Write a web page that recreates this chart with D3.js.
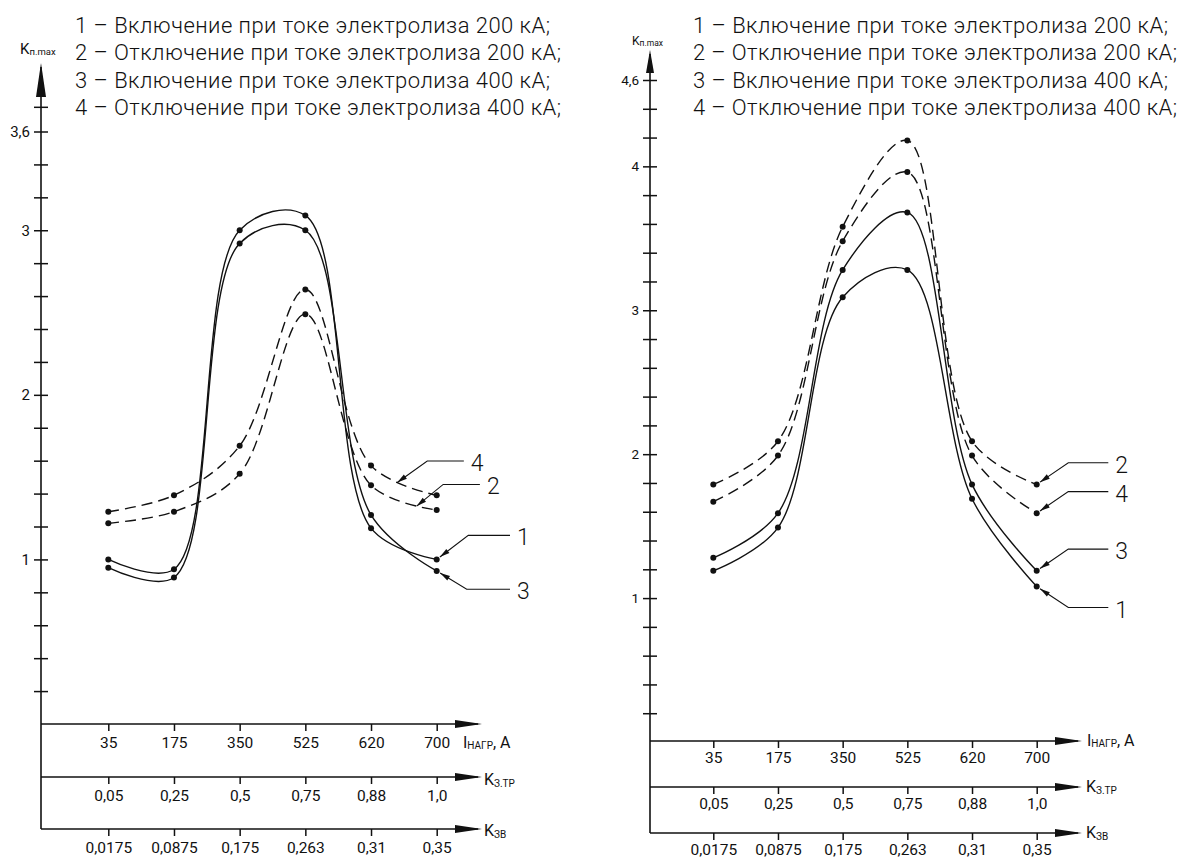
<!DOCTYPE html>
<html>
<head>
<meta charset="utf-8">
<script src="https://cdn.jsdelivr.net/npm/d3@7"></script>
<style>
body { margin: 0; background: #fff; }
svg { display: block; }
text { font-family: "Roboto", "DejaVu Sans", sans-serif; fill: #111; }
.big { font-weight: 300; }
.curve { fill: none; stroke: #111; stroke-width: 1.4; }
.dashed { stroke-dasharray: 11,6; }
.axisline { stroke: #111; stroke-width: 1.6; fill: none; }
.leader { stroke: #111; stroke-width: 1.1; fill: none; }
</style>
</head>
<body>
<div class="container"></div>
<script>
const WIDTH = 1190;
const HEIGHT = 859;

// x categories (three scales under each picture)
var currentLabels = ["35", "175", "350", "525", "620", "700"];
var ktrLabels = ["0,05", "0,25", "0,5", "0,75", "0,88", "1,0"];
var kzvLabels = ["0,0175", "0,0875", "0,175", "0,263", "0,31", "0,35"];

var legendLines = [
	"1 – Включение при токе электролиза 200 кА;",
	"2 – Отключение при токе электролиза 200 кА;",
	"3 – Включение при токе электролиза 400 кА;",
	"4 – Отключение при токе электролиза 400 кА;"
];

// left picture, Kп.max
var leftOn200  = [1.00, 0.94, 3.00, 3.09, 1.19, 1.00];
var leftOff200 = [1.22, 1.29, 1.52, 2.49, 1.45, 1.30];
var leftOn400  = [0.95, 0.89, 2.92, 3.00, 1.27, 0.93];
var leftOff400 = [1.29, 1.39, 1.69, 2.64, 1.57, 1.39];
var leftYLabels = [1, 2, 3, 3.6];
var leftYTicks = d3.range(1, 19).map(function(i){ return i / 5; }).concat([3.75]);

// right picture, Kп.max
var rightOn200  = [1.19, 1.49, 3.09, 3.28, 1.69, 1.08];
var rightOff200 = [1.79, 2.09, 3.58, 4.18, 2.09, 1.79];
var rightOn400  = [1.28, 1.59, 3.28, 3.68, 1.79, 1.19];
var rightOff400 = [1.67, 1.99, 3.48, 3.96, 1.99, 1.59];
var rightYLabels = [1, 2, 3, 4, 4.6];
var rightYTicks = d3.range(1, 24).map(function(i){ return i / 5; });

var comma = function(v){ return String(v).replace(".", ","); };

var svg = d3.select(".container").append("svg")
	.attr("width", WIDTH)
	.attr("height", HEIGHT);

var arrowPath = function(tx, ty, ux, uy, len, half){
	// triangle with tip at (tx,ty), body going in direction (ux,uy)
	var bx = tx + ux * len, by = ty + uy * len;
	var nx = -uy, ny = ux;
	return "M" + tx + "," + ty +
		"L" + (bx + nx * half) + "," + (by + ny * half) +
		"L" + (bx - nx * half) + "," + (by - ny * half) + "Z";
};

var richText = function(g, x, y, parts){
	var t = g.append("text").attr("x", x).attr("y", y);
	parts.forEach(function(p){
		t.append("tspan")
			.attr("font-size", p.size)
			.attr("dy", p.dy || 0)
			.text(p.t);
	});
	return t;
};

// walk back from the end of the path to the first point left of px
var pointAtX = function(node, px){
	var total = node.getTotalLength();
	for (var l = total; l > 0; l -= 0.5) {
		var p = node.getPointAtLength(l);
		if (p.x <= px) return p;
	}
	return node.getPointAtLength(0);
};

var drawPicture = function(cfg){
	var g = svg.append("g");

	var x = d3.scalePoint().domain(currentLabels).range([cfg.x0, cfg.x1]);
	var y = d3.scaleLinear().domain([0, cfg.yTopVal]).range([cfg.yZero, cfg.yTopPx]);

	// vertical axis with arrow
	var bottom = cfg.hAxes[cfg.hAxes.length - 1];
	g.append("line").classed("axisline", true)
		.attr("x1", cfg.axisX).attr("x2", cfg.axisX)
		.attr("y1", bottom).attr("y2", cfg.yTip + 4);
	g.append("path")
		.attr("d", arrowPath(cfg.axisX, cfg.yTip, 0, 1, cfg.yArrowLen, cfg.yArrowHalf))
		.attr("fill", "#111");

	// crossing ticks on the vertical axis
	[d3.axisLeft(y), d3.axisRight(y)].forEach(function(ax){
		var a = g.append("g")
			.attr("transform", "translate(" + cfg.axisX + ",0)")
			.call(ax.tickValues(cfg.yTicks).tickSize(7).tickFormat(""));
		a.select(".domain").remove();
		a.selectAll("line").attr("stroke", "#111").attr("stroke-width", 1.5);
	});
	var yl = g.append("g")
		.attr("transform", "translate(" + cfg.axisX + ",0)")
		.call(d3.axisLeft(y).tickValues(cfg.yLabels).tickSize(0).tickPadding(11).tickFormat(comma));
	yl.select(".domain").remove();
	yl.attr("font-family", null).attr("font-size", cfg.yLabelSize);

	richText(g, cfg.kLabel.x, cfg.kLabel.y, [
		{t: "K", size: cfg.kLabel.size},
		{t: "п.max", size: cfg.kLabel.sub, dy: 1}
	]);

	// three horizontal scales
	var rows = [currentLabels, ktrLabels, kzvLabels];
	cfg.hAxes.forEach(function(ay, k){
		g.append("line").classed("axisline", true)
			.attr("x1", cfg.axisX).attr("x2", cfg.hTip - 4)
			.attr("y1", ay).attr("y2", ay);
		g.append("path")
			.attr("d", arrowPath(cfg.hTip, ay, -1, 0, 27, 3.9))
			.attr("fill", "#111");
		var a = g.append("g")
			.attr("transform", "translate(0," + ay + ")")
			.call(d3.axisBottom(x).tickSize(7).tickSizeOuter(0).tickPadding(cfg.tickPad)
				.tickFormat(function(d, i){ return rows[k][i]; }));
		a.select(".domain").remove();
		a.attr("font-family", null).attr("font-size", 15.5);
		a.selectAll("line").attr("stroke", "#111").attr("stroke-width", 1.5);
	});

	var n = cfg.axisNames;
	richText(g, n[0].x, n[0].y, [
		{t: "I", size: 16},
		{t: "НАГР", size: 10, dy: 1},
		{t: ",  A", size: 16, dy: -1}
	]);
	richText(g, n[1].x, n[1].y, [
		{t: "K", size: 16},
		{t: "З.ТР", size: 10, dy: 2}
	]);
	richText(g, n[2].x, n[2].y, [
		{t: "K", size: 16},
		{t: "ЗВ", size: 10, dy: 2}
	]);

	// curves
	var line = d3.line()
		.x(function(d, i){ return x(currentLabels[i]); })
		.y(function(d){ return y(d); })
		.curve(d3.curveCatmullRom.alpha(0.5));

	var nodes = {};
	cfg.series.forEach(function(s){
		var p = g.append("path")
			.classed("curve", true)
			.classed("dashed", s.dashed)
			.attr("d", line(s.values));
		nodes[s.num] = {node: p.node(), values: s.values};
		g.selectAll(null).data(s.values).enter().append("circle")
			.attr("cx", function(d, i){ return x(currentLabels[i]); })
			.attr("cy", function(d){ return y(d); })
			.attr("r", 3)
			.attr("fill", "#111");
	});

	// numbered leaders
	cfg.leaders.forEach(function(l){
		var s = nodes[l.num], tx, ty, off;
		if (l.between == null) {
			tx = x(currentLabels[5]);
			ty = y(s.values[5]);
			off = 4;
		} else {
			var px = x(currentLabels[4]) + l.between * (x(currentLabels[5]) - x(currentLabels[4]));
			var pt = pointAtX(s.node, px);
			tx = pt.x; ty = pt.y; off = 0;
		}
		var ex = tx + l.dx, ey = ty + l.dy;
		var len = Math.sqrt(l.dx * l.dx + l.dy * l.dy);
		var ux = l.dx / len, uy = l.dy / len;
		var sx = tx + ux * off, sy = ty + uy * off;
		g.append("path").classed("leader", true)
			.attr("d", "M" + sx + "," + sy + "L" + ex + "," + ey + "H" + (tx + l.reach));
		g.append("path")
			.attr("d", arrowPath(sx, sy, ux, uy, 10, 2.6))
			.attr("fill", "#111");
		g.append("text").classed("big", true)
			.attr("x", tx + l.reach + 7)
			.attr("y", ey + 10)
			.attr("font-size", 23)
			.text(l.num);
	});

	// legend
	legendLines.forEach(function(t, i){
		g.append("text").classed("big", true)
			.attr("x", cfg.legendX)
			.attr("y", 33 + i * 27.3)
			.attr("font-size", 22)
			.attr("textLength", cfg.legendWidths[i])
			.attr("lengthAdjust", "spacing")
			.text(t);
	});
};

var loadChart = function(){
	drawPicture({
		axisX: 41, x0: 108.3, x1: 436.7,
		yZero: 724, yTopVal: 3.6, yTopPx: 131.5,
		yTip: 63, yArrowLen: 34, yArrowHalf: 5,
		yTicks: leftYTicks, yLabels: leftYLabels, yLabelSize: 15,
		hAxes: [724, 777, 829], hTip: 482, tickPad: 6,
		kLabel: {x: 20, y: 54, size: 15, sub: 9.5},
		axisNames: [{x: 463, y: 748}, {x: 484, y: 785}, {x: 484, y: 836}],
		legendX: 75, legendWidths: [475, 486, 475, 486],
		series: [
			{num: 1, values: leftOn200, dashed: false},
			{num: 2, values: leftOff200, dashed: true},
			{num: 3, values: leftOn400, dashed: false},
			{num: 4, values: leftOff400, dashed: true}
		],
		leaders: [
			{num: 4, between: 0.4, dx: 30, dy: -21.6, reach: 66.6},
			{num: 2, between: 0.7, dx: 26.6, dy: -21.7, reach: 63.3},
			{num: 1, dx: 31.6, dy: -24, reach: 73.3},
			{num: 3, dx: 30, dy: 18.3, reach: 73.3}
		]
	});

	drawPicture({
		axisX: 650, x0: 713.3, x1: 1036.7,
		yZero: 742, yTopVal: 4.6, yTopPx: 80,
		yTip: 50, yArrowLen: 23, yArrowHalf: 4,
		yTicks: rightYTicks, yLabels: rightYLabels, yLabelSize: 13.5,
		hAxes: [741, 787, 833], hTip: 1082, tickPad: 4,
		kLabel: {x: 632, y: 45, size: 12, sub: 8.5},
		axisNames: [{x: 1087, y: 746}, {x: 1086, y: 792}, {x: 1086, y: 838}],
		legendX: 693, legendWidths: [475, 484, 475, 484],
		series: [
			{num: 1, values: rightOn200, dashed: false},
			{num: 2, values: rightOff200, dashed: true},
			{num: 3, values: rightOn400, dashed: false},
			{num: 4, values: rightOff400, dashed: true}
		],
		leaders: [
			{num: 2, dx: 31.6, dy: -21.6, reach: 71.6},
			{num: 4, dx: 31.6, dy: -21.6, reach: 71.6},
			{num: 3, dx: 31.6, dy: -21.6, reach: 71.6},
			{num: 1, dx: 31.6, dy: 21, reach: 71.6}
		]
	});
};

window.onload = loadChart;
</script>
</body>
</html>
